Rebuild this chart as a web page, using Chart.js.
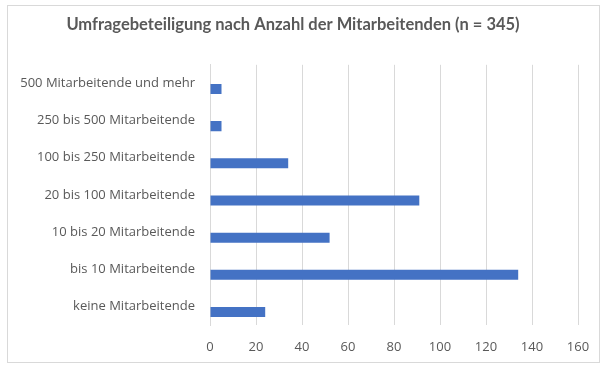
<!DOCTYPE html>
<html>
<head>
<meta charset="utf-8">
<script src="https://cdn.jsdelivr.net/npm/chart.js@4"></script>
<style>
  body { margin: 0; background: #fff; }
  #box { position: absolute; left: 7px; top: 5px; width: 591px; height: 356px; border: 1px solid #d9d9d9; }
</style>
</head>
<body>
<div id="box"><canvas id="chart" width="591" height="356"></canvas></div>
<script>
const categories = [
    '500 Mitarbeitende und mehr',
    '250 bis 500 Mitarbeitende',
    '100 bis 250 Mitarbeitende',
    '20 bis 100 Mitarbeitende',
    '10 bis 20 Mitarbeitende',
    'bis 10 Mitarbeitende',
    'keine Mitarbeitende'
];
const counts = [5, 5, 34, 91, 52, 134, 24];
const xTicks = [0, 20, 40, 60, 80, 100, 120, 140, 160];

const grey = '#595959';

const ctx = document.getElementById('chart').getContext('2d');
new Chart(ctx, {
    type: 'bar',
    data: {
        labels: categories,
        datasets: [
            // empty series: the original sits its bars a bit below the label
            { data: [], backgroundColor: 'transparent' },
            { data: counts, backgroundColor: '#4472c4' }
        ]
    },
    options: {
        indexAxis: 'y',
        responsive: false,
        animation: false,
        datasets: { bar: { categoryPercentage: 0.6, barPercentage: 0.9 } },
        layout: { padding: { left: 0, right: 21, top: 0, bottom: 0 } },
        plugins: {
            legend: { display: false },
            tooltip: { enabled: false },
            title: {
                display: true,
                text: 'Umfragebeteiligung nach Anzahl der Mitarbeitenden (n = 345)',
                color: grey,
                font: { family: 'Lato', size: 16.5, weight: 'bold' },
                padding: { top: 9, bottom: 30 }
            }
        },
        scales: {
            x: {
                min: 0,
                max: 160,
                afterBuildTicks: s => { s.ticks = xTicks.map(v => ({ value: v })); },
                grid: { color: '#d9d9d9', drawTicks: false },
                border: { display: false },
                ticks: { color: grey, padding: 14, font: { family: 'Open Sans', size: 13 } },
                afterFit: s => { s.height = 37; s.paddingLeft = 0; s.paddingRight = 0; }
            },
            y: {
                grid: { display: false, drawTicks: false },
                border: { display: true, color: '#d9d9d9' },
                ticks: { color: grey, padding: 15, font: { family: 'Open Sans', size: 13 } },
                afterFit: s => { s.width = 202; }
            }
        }
    }
});
</script>
</body>
</html>
